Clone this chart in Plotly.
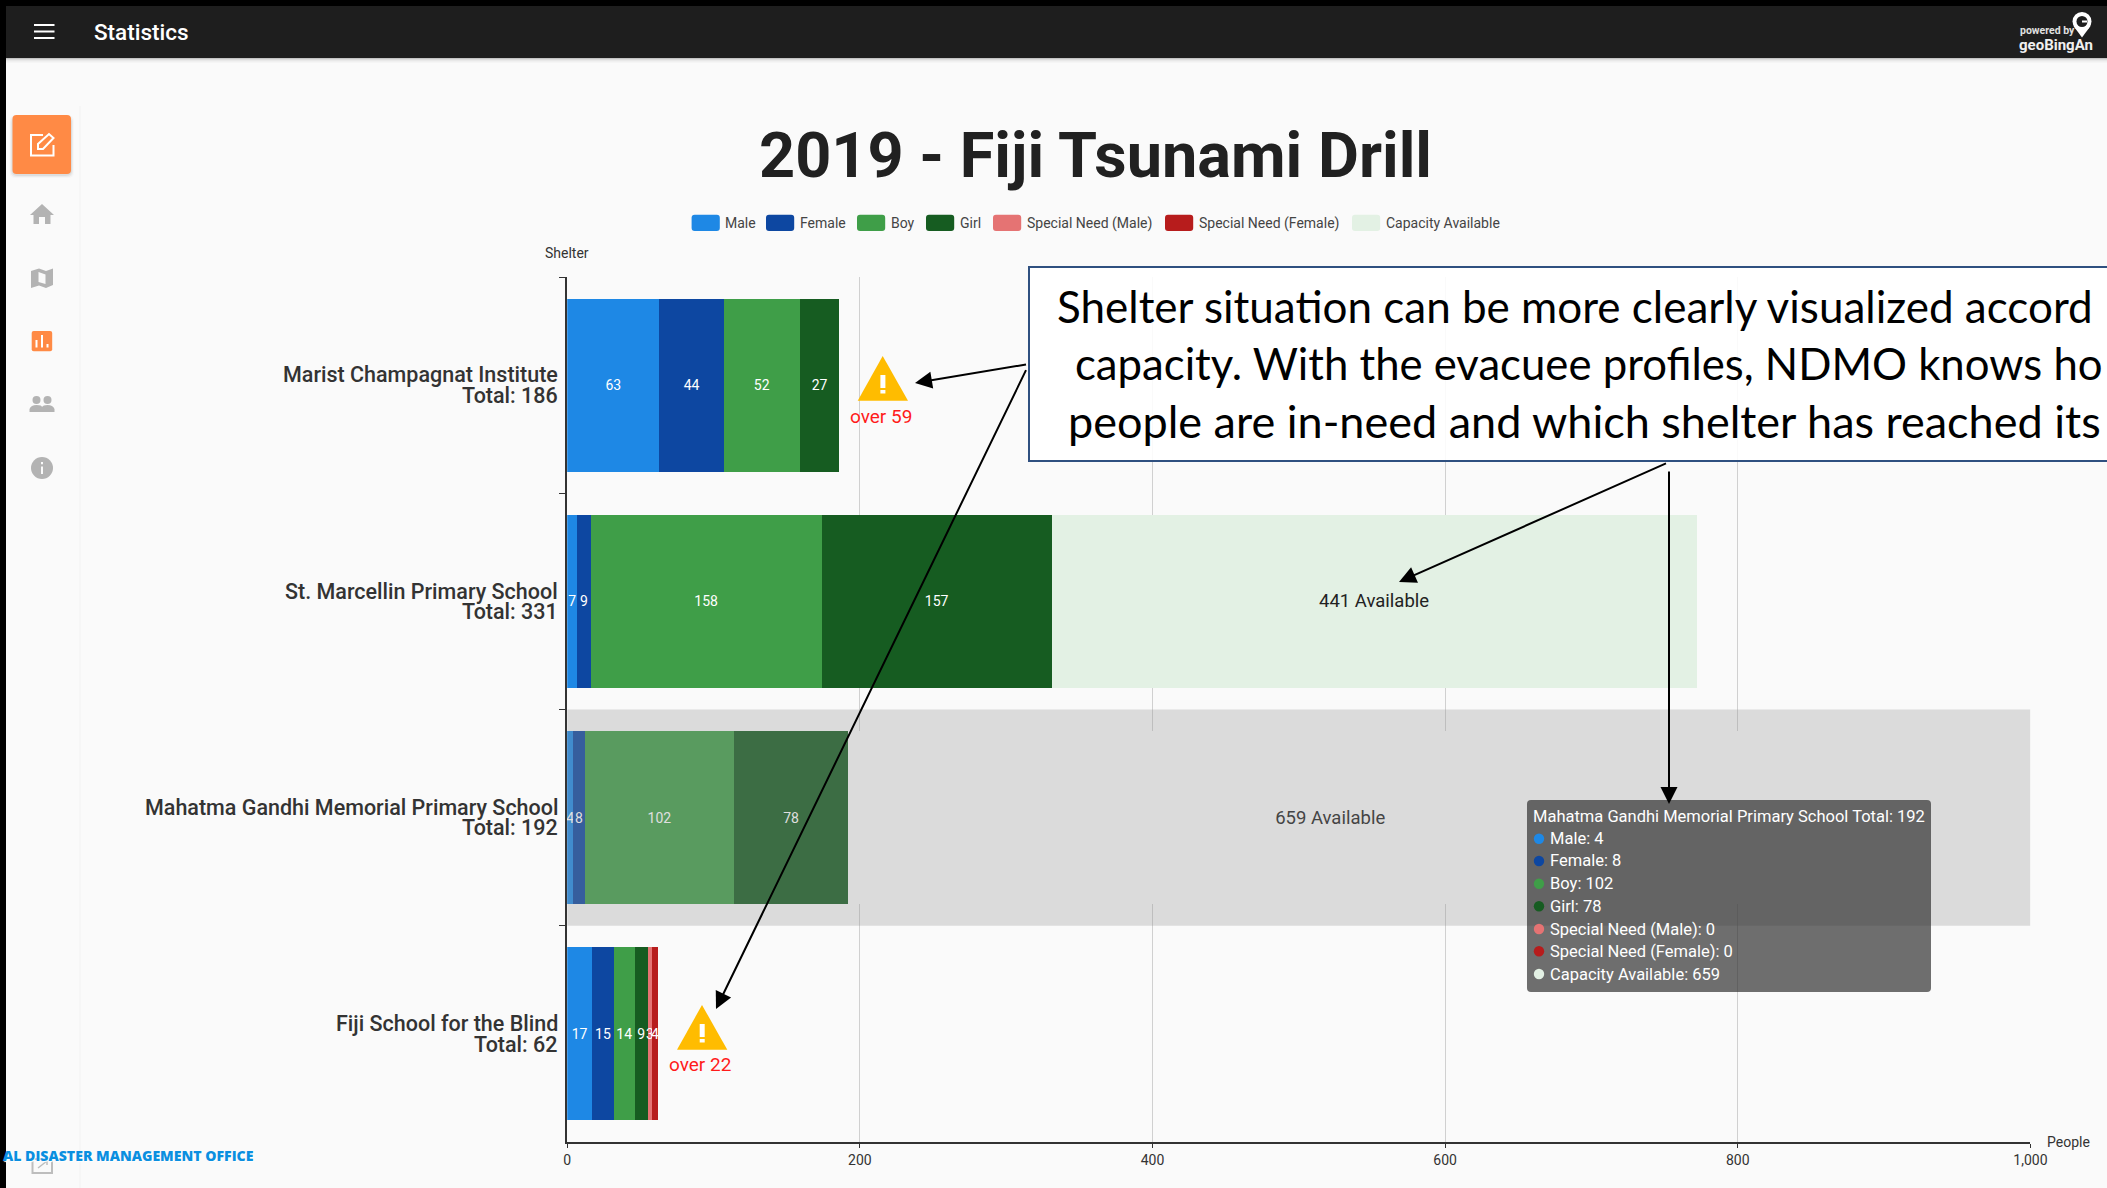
import plotly.graph_objects as go

W, H = 2107, 1188

# ---- data ----
shelters = ["Marist Champagnat Institute", "St. Marcellin Primary School",
            "Mahatma Gandhi Memorial Primary School", "Fiji School for the Blind"]
male = [63, 7, 4, 17]
female = [44, 9, 8, 15]
boy = [52, 158, 102, 14]
girl = [27, 157, 78, 9]
special_male = [0, 0, 0, 3]
special_female = [0, 0, 0, 4]
capacity = [0, 441, 659, 0]
over_by = [59, 0, 0, 22]
x_ticks = [0, 200, 400, 600, 800, 1000]
hover_index = 2

series_names = ["Male", "Female", "Boy", "Girl", "Special Need (Male)", "Special Need (Female)", "Capacity Available"]
series_values = [male, female, boy, girl, special_male, special_female, capacity]
series_colors = ["#1E88E5", "#0D47A1", "#3F9E48", "#165C21", "#E57373", "#B71C1C", "#E3F1E4"]
totals = [sum(s[i] for s in series_values[:6]) for i in range(len(shelters))]

BG = "#FAFAFA"
TXT = "#333333"
FONT = "Roboto"


def fx(x): return x / W
def fy(y): return 1 - y / H


def pth(*cmds):
    """cmds: ('M',x,y) ('L',x,y) ('Q',cx,cy,x,y) ('Z',) in page pixels"""
    out = []
    for c in cmds:
        nums = c[1:]
        pairs = []
        for i in range(0, len(nums), 2):
            pairs.append(f"{fx(nums[i]):.6f},{fy(nums[i+1]):.6f}")
        out.append(c[0] + " ".join(pairs))
    return " ".join(out)


def poly(*pts):
    return pth(("M", *pts[0]), *[("L", *p) for p in pts[1:]], ("Z",))


def rr(x0, y0, x1, y1, r):
    return pth(("M", x0 + r, y0), ("L", x1 - r, y0), ("Q", x1, y0, x1, y0 + r), ("L", x1, y1 - r),
               ("Q", x1, y1, x1 - r, y1), ("L", x0 + r, y1), ("Q", x0, y1, x0, y1 - r),
               ("L", x0, y0 + r), ("Q", x0, y0, x0 + r, y0), ("Z",))


shapes, anns = [], []


def fill(path, color, layer="above", line=None, lw=0):
    shapes.append(dict(type="path", xref="paper", yref="paper", path=path, fillcolor=color, layer=layer,
                       line=dict(color=line or "rgba(0,0,0,0)", width=lw)))


def rect(x0, y0, x1, y1, color, layer="above", line=None, lw=0):
    shapes.append(dict(type="rect", xref="paper", yref="paper", x0=fx(x0), x1=fx(x1), y0=fy(y0), y1=fy(y1),
                       fillcolor=color, layer=layer, line=dict(color=line or "rgba(0,0,0,0)", width=lw)))


def circ(cx, cy, r, color, layer="above"):
    shapes.append(dict(type="circle", xref="paper", yref="paper", x0=fx(cx - r), x1=fx(cx + r),
                       y0=fy(cy - r), y1=fy(cy + r), fillcolor=color, layer=layer, line=dict(width=0)))


def text(x, y, s, size=14, color=TXT, anchor="left", family=FONT, weight=400, **kw):
    f = dict(size=size, color=color, family=family, weight=weight)
    f.update(kw)
    anns.append(dict(xref="paper", yref="paper", x=fx(x), y=fy(y), text=s, showarrow=False, xanchor=anchor,
                     yanchor="middle", font=f, borderpad=0, borderwidth=0))


def arrow(x0, y0, x1, y1):
    anns.append(dict(xref="paper", yref="paper", x=fx(x1), y=fy(y1), ax=x0 - x1, ay=y0 - y1, text=" ",
                     showarrow=True, arrowhead=2, arrowsize=1.7, arrowwidth=2, arrowcolor="#000000"))


# ---- hover band (sits over the bars, tints them) ----
shapes.append(dict(type="rect", xref="x", yref="y", x0=0, x1=x_ticks[-1], y0=hover_index - 0.5, y1=hover_index + 0.5,
                   fillcolor="rgba(150,150,150,0.3)", line=dict(width=0), layer="above"))

# ---- app chrome ----
rect(0, 0, W, 6, "#000000")
rect(0, 0, 6, H, "#000000")
rect(6, 6, W, 58, "#1E1E1E")
for i, a in enumerate([0.22, 0.12, 0.07, 0.04, 0.02]):
    rect(6, 58 + i, W, 59 + i, f"rgba(0,0,0,{a})")
for y in (25, 31.5, 38):
    rect(34, y - 1, 54.5, y + 1, "#FFFFFF")
text(94, 32, "Statistics", 22.5, "#FFFFFF", weight=500)
text(2020, 31, "powered by", 10.5, "#E0E0E0", weight=700)
text(2019, 45, "geoBingAn", 15, "#F0F0F0", weight=700)
circ(2082, 21.5, 9.5, "#FFFFFF")
fill(poly((2073.5, 26), (2090.5, 26), (2082, 37.5)), "#FFFFFF")
circ(2082, 21.5, 5.5, "#1E1E1E")
rect(2082, 20.5, 2087, 22.5, "#FFFFFF")

rect(79.5, 106, 80.5, H, "#F1F1F1")
for i, a in enumerate([0.02, 0.04, 0.06]):
    fill(rr(12.5 - 3 + i, 115 + i, 71 + 3 - i, 174 + 4 - i, 6), f"rgba(0,0,0,{a})")
fill(rr(12.5, 115, 71, 174, 4), "#FF8A45")
# edit icon
fill(pth(("M", 43, 135), ("L", 31, 135), ("L", 31, 155.5), ("L", 53.5, 155.5), ("L", 53.5, 145)),
     "rgba(0,0,0,0)", line="#FFFFFF", lw=2)
fill(poly((38, 149), (38, 144), (49, 134), (53.5, 138), (43, 149)), "rgba(0,0,0,0)", line="#FFFFFF", lw=2)
GR = "#B3B3B3"
# home
fill(poly((42, 204), (54, 215), (50.5, 215), (50.5, 224), (45, 224), (45, 217), (39, 217), (39, 224), (33.5, 224),
          (33.5, 215), (30, 215)), GR)
# map
fill(poly((31, 271), (39, 268.5), (46, 271), (53, 268.5), (53, 285), (46, 288), (39, 285.5), (31, 288)), GR)
fill(poly((38.5, 272), (45.5, 274.5), (45.5, 284), (38.5, 282)), BG)
# chart icon
fill(rr(31.7, 331, 52.2, 351.3, 2), "#FF8A45")
rect(35.5, 340, 37.5, 347.5, "#FFFFFF")
rect(41, 335, 43, 347.5, "#FFFFFF")
rect(46.5, 344, 48.5, 347.5, "#FFFFFF")
# people
circ(36.5, 400, 4, GR)
circ(47.5, 400, 4, GR)
fill(pth(("M", 29.5, 412), ("L", 29.5, 409), ("Q", 31, 405, 36.5, 405), ("Q", 42, 405, 42, 407), ("Q", 43, 405, 47.5, 405),
         ("Q", 53, 405, 54.5, 409), ("L", 54.5, 412), ("Z",)), GR)
# info
circ(42, 468, 11, GR)
rect(41, 466.5, 43, 474, "#FAFAFA")
rect(41, 462, 43, 464.2, "#FAFAFA")
# logout
fill(pth(("M", 41, 1159), ("L", 32.5, 1159), ("L", 32.5, 1173), ("L", 52, 1173), ("L", 52, 1159), ("L", 49, 1159)),
     "rgba(0,0,0,0)", line="#BDBDBD", lw=2)
fill(pth(("M", 38, 1168), ("L", 47, 1161), ("M", 42, 1160.5), ("L", 47, 1160.5), ("L", 47, 1165)),
     "rgba(0,0,0,0)", line="#BDBDBD", lw=1.5)

# ---- legend with the rounded swatches of the original ----
legend_swatch_x = [691.6, 766, 857, 926, 993, 1165, 1352]
for x, name, col in zip(legend_swatch_x, series_names, series_colors):
    fill(rr(x, 214.7, x + 28.2, 231, 3), col)
    text(x + 33.8, 223, name, 14, "#444444")

# ---- category labels: two tight lines ----
for i, name in enumerate(shelters):
    for line, shift in ((name, 10.2), (f"Total: {totals[i]}", -10.2)):
        anns.append(dict(xref="paper", yref="y", x=fx(560), y=i, yshift=shift, text=line, showarrow=False,
                         xanchor="right", yanchor="middle", font=dict(size=21.5, color=TXT, family=FONT, weight=500)))

# axis names
text(567, 253, "Shelter", 14, TXT, "center")
text(2047, 1142, "People", 14, TXT)

# ---- warnings ----
warn_pos = {0: (0, 0), 3: (-180.7, 649)}
for i, (dx, dy) in warn_pos.items():
    fill(poly((882.7 + dx, 356 + dy), (908 + dx, 400.7 + dy), (857.7 + dx, 400.7 + dy)), "#FFBC00")
    rect(880.4 + dx, 375 + dy, 885.4 + dx, 388 + dy, "#FFFFFF")
    rect(880.4 + dx, 390 + dy, 885.4 + dx, 393.5 + dy, "#FFFFFF")
    text(880.7 + dx, 416.5 + dy - (1 if dy else 0), f"over {over_by[i]}", 19, "#FF1A1A", "center")

# ---- tooltip ----
fill(rr(1527, 800, 1931, 992, 4), "rgba(50,50,50,0.7)")
text(1533, 816, f"{shelters[hover_index]} Total: {totals[hover_index]}", 16.5, "#FFFFFF")
tip_ys = [838.7, 861, 883.7, 906.3, 929, 951.3, 974]
for y, name, vals, col in zip(tip_ys, series_names, series_values, series_colors):
    circ(1539, y, 5.2, col)
    text(1550, y, f"{name}: {vals[hover_index]}", 16.5, "#FFFFFF")

# ---- callout ----
rect(1029, 267, W + 20, 461, "rgba(255,255,255,0.88)", line="#2F5080", lw=2)
for x, y, s, size in [(1057, 306, "Shelter situation can be more clearly visualized accord", 44),
                      (1075, 363, "capacity. With the evacuee profiles, NDMO knows ho", 43.7),
                      (1068, 421, "people are in-need and which shelter has reached its", 45)]:
    text(x, y, s, size, "#000000", family="Lato")
arrow(1029, 364, 915, 383)
arrow(1029, 364, 716, 1009)
arrow(1669, 462, 1399, 582)
arrow(1669, 462, 1669, 804)

# brand strip
text(254, 1155.5, "AL DISASTER MANAGEMENT OFFICE", 14.1, "#0A8FE0", "right", family="Open Sans", weight=800,
     shadow="1px 1px 1px #FFFFFF")

# ---- bars ----
fig = go.Figure()
for name, vals, col in zip(series_names, series_values, series_colors):
    is_cap = name == "Capacity Available"
    labels = [(f"{v} Available" if is_cap else str(v)) if v else "" for v in vals]
    colors = [BG if (is_cap and i == hover_index) else col for i in range(len(vals))]
    fig.add_trace(go.Bar(
        y=shelters, x=vals, name=name, orientation="h", width=0.8,
        marker=dict(color=colors, line=dict(width=0)),
        text=labels, textposition="inside", insidetextanchor="middle", textangle=0, constraintext="none",
        insidetextfont=dict(size=18.5 if is_cap else 14, color="#222222" if is_cap else "#FFFFFF", family=FONT),
        cliponaxis=False, hoverinfo="skip", showlegend=False))

fig.update_layout(
    width=W, height=H, autosize=False, paper_bgcolor=BG, plot_bgcolor=BG,
    margin=dict(l=0, r=0, t=0, b=0, autoexpand=False),
    barmode="stack", bargap=0.2, showlegend=False,
    font=dict(family=FONT, color=TXT, size=14),
    title=dict(text="2019 - Fiji Tsunami Drill", x=1095.5 / W, xanchor="center", y=fy(155), yanchor="middle",
               font=dict(size=63, family=FONT, weight=700, color="#212121")),
    xaxis=dict(domain=[567.2 / W, 2030.4 / W], range=[0, x_ticks[-1]], tickvals=x_ticks, tickformat=",",
               showgrid=True, gridcolor="#D0D0D0", gridwidth=1, zeroline=False, showline=True, linecolor="#333333",
               linewidth=1.5, ticks="outside", ticklen=4, tickcolor="#333333", tickfont=dict(size=14, color=TXT)),
    yaxis=dict(domain=[fy(1142), fy(277)], type="category", categoryorder="array", categoryarray=shelters,
               autorange=False, range=[len(shelters) - 0.5, -0.5], showgrid=False, zeroline=False, showline=True,
               linecolor="#333333", linewidth=1.5, ticks="outside", ticklen=6, tickcolor="#333333",
               tickson="boundaries", showticklabels=False),
    shapes=shapes, annotations=anns)

fig.write_html("out.html", config=dict(displayModeBar=False),
               post_script="document.body.style.margin='0';document.documentElement.style.overflow='hidden';")
